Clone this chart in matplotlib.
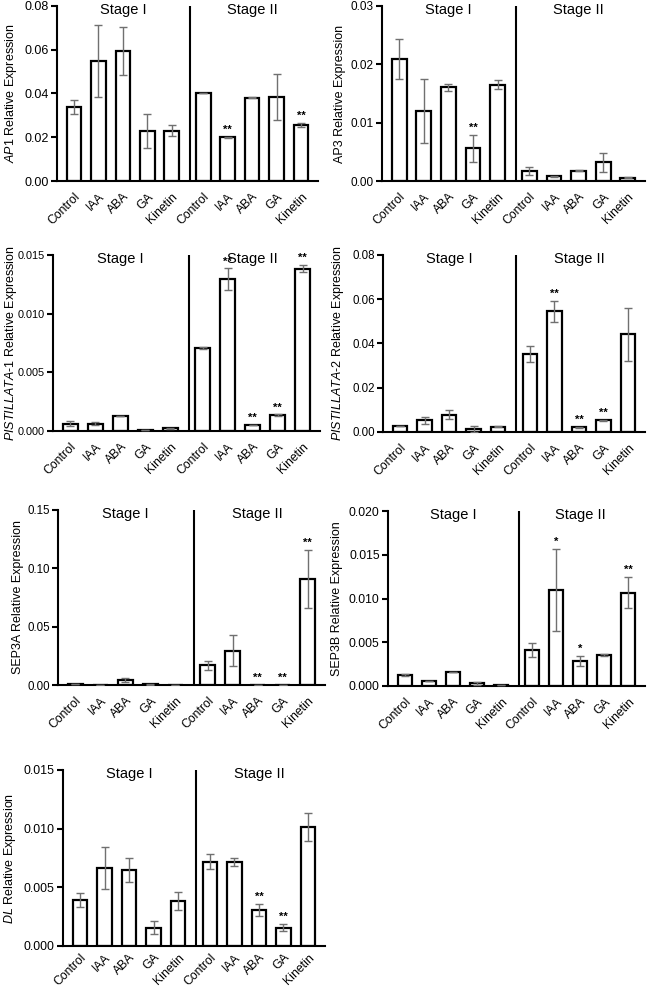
import numpy as np
import matplotlib
matplotlib.use("Agg")
import matplotlib.pyplot as plt

plt.rcParams['font.family'] = ['Liberation Sans', 'DejaVu Sans']
plt.rcParams['mathtext.fontset'] = 'custom'
plt.rcParams['mathtext.rm'] = 'Liberation Sans'
plt.rcParams['mathtext.it'] = 'Liberation Sans:italic'

treatments = ["Control", "IAA", "ABA", "GA", "Kinetin"]
stages = ["Stage I", "Stage II"]

# values: Stage I then Stage II
ap1 = [0.0338, 0.0549, 0.0594, 0.0229, 0.0229, 0.0402, 0.0200, 0.0380, 0.0384, 0.0256]
ap1_err = [0.0033, 0.0163, 0.0110, 0.0079, 0.0025, 0.0002, 0.0003, 0.0002, 0.0104, 0.0008]
ap1_sig = ["", "", "", "", "", "", "**", "", "", "**"]

ap3 = [0.0209, 0.0120, 0.0161, 0.0056, 0.0165, 0.0017, 0.0008, 0.0018, 0.0032, 0.0006]
ap3_err = [0.0034, 0.0055, 0.0006, 0.0023, 0.0008, 0.0007, 0.0001, 0.0001, 0.0016, 0.0001]
ap3_sig = ["", "", "", "**", "", "", "", "", "", ""]

pi1 = [0.00063, 0.00063, 0.0013, 0.00005, 0.00023, 0.00705, 0.01295, 0.00051, 0.00136, 0.01383]
pi1_err = [0.0002, 0.00015, 0.0, 0.0, 0.00005, 0.0001, 0.0009, 0.00003, 0.00005, 0.0003]
pi1_sig = ["", "", "", "", "", "", "**", "**", "**", "**"]

pi2 = [0.0027, 0.0052, 0.0079, 0.0012, 0.0023, 0.0352, 0.0545, 0.0021, 0.0052, 0.0442]
pi2_err = [0.0001, 0.0016, 0.0019, 0.0013, 0.0002, 0.0035, 0.0049, 0.0002, 0.0002, 0.0120]
pi2_sig = ["", "", "", "", "", "", "**", "**", "**", ""]

sep3a = [0.0009, 0.0001, 0.0043, 0.0005, 0.0001, 0.0169, 0.0294, 0.0002, 0.0004, 0.0906]
sep3a_err = [0.0003, 0.0, 0.0013, 0.0002, 0.0, 0.0040, 0.0135, 0.0, 0.0, 0.0250]
sep3a_sig = ["", "", "", "", "", "", "", "**", "**", "**"]

sep3b = [0.00125, 0.00057, 0.00163, 0.0003, 0.00011, 0.00414, 0.01095, 0.00285, 0.00354, 0.01068]
sep3b_err = [0.00012, 0.00004, 0.0, 0.00013, 0.00002, 0.0008, 0.0047, 0.00057, 0.0001, 0.0018]
sep3b_sig = ["", "", "", "", "", "", "*", "*", "", "**"]

dl = [0.00392, 0.00668, 0.00648, 0.00156, 0.00384, 0.00719, 0.00719, 0.00307, 0.00156, 0.01011]
dl_err = [0.00057, 0.0018, 0.001, 0.00057, 0.00073, 0.00065, 0.00034, 0.0005, 0.0003, 0.0012]
dl_sig = ["", "", "", "", "", "", "", "**", "**", ""]

panels = [
    (r"$\it{AP1}$ Relative Expression", ap1, ap1_err, ap1_sig, [0, 0.02, 0.04, 0.06, 0.08], "%.2f"),
    ("AP3 Relative Expression", ap3, ap3_err, ap3_sig, [0, 0.01, 0.02, 0.03], "%.2f"),
    (r"$\it{PISTILLATA}$-$\it{1}$ Relative Expression", pi1, pi1_err, pi1_sig, [0, 0.005, 0.010, 0.015], "%.3f"),
    (r"$\it{PISTILLATA}$-$\it{2}$ Relative Expression", pi2, pi2_err, pi2_sig, [0, 0.02, 0.04, 0.06, 0.08], "%.2f"),
    ("SEP3A Relative Expression", sep3a, sep3a_err, sep3a_sig, [0, 0.05, 0.10, 0.15], "%.2f"),
    ("SEP3B Relative Expression", sep3b, sep3b_err, sep3b_sig, [0, 0.005, 0.010, 0.015, 0.020], "%.3f"),
    (r"$\it{DL}$ Relative Expression", dl, dl_err, dl_sig, [0, 0.005, 0.010, 0.015], "%.3f"),
]

# axes rectangles in pixels: left, right, top, bottom, ylabel right edge x, tick font size, x label pad
W, H = 649, 990
boxes = [
    (57, 318, 6, 181, 19, 9.0, 7),
    (382, 645, 6, 181, 346, 8.5, 7),
    (53, 320, 255, 431, 19, 7.8, 7),
    (383, 645, 255, 432, 346, 8.3, 7),
    (58, 325, 510, 685, 24, 8.3, 7),
    (388, 645, 511, 686, 343, 8.7, 7),
    (63, 325, 770, 946, 18, 8.9, 4),
]

x = np.array([0, 1, 2, 3, 4, 5.3, 6.3, 7.3, 8.3, 9.3])
divider = 4.75

fig = plt.figure(figsize=(W / 100, H / 100), dpi=100)

for (ylab, vals, errs, sig, ticks, fmt), (l, r, t, b, lx, fs, xpad) in zip(panels, boxes):
    ax = fig.add_axes([l / W, 1 - b / H, (r - l) / W, (b - t) / H])
    ymax = ticks[-1]
    ax.bar(x, vals, width=0.6, color="white", edgecolor="black", linewidth=1.6, zorder=2)
    ax.errorbar(x, vals, yerr=errs, fmt="none", ecolor="#707070", elinewidth=1,
                capsize=3, capthick=1, zorder=3)
    for xi, v, e, s in zip(x, vals, errs, sig):
        if s:
            ax.text(xi, v + e + ymax * 0.012, s, ha="center", va="bottom",
                    fontsize=8, fontweight="bold")
    ax.axvline(divider, color="black", linewidth=1.5)
    ax.set_xlim(-0.7, 10.0)
    ax.set_ylim(0, ymax)
    ax.set_yticks(ticks)
    ax.set_yticklabels([fmt % v for v in ticks], fontsize=fs)
    ax.set_xticks(x)
    ax.set_xticklabels(treatments * 2, rotation=45, ha="right", rotation_mode="anchor",
                       fontsize=8.8)
    ax.tick_params(axis="x", length=0, pad=xpad)
    ax.tick_params(axis="y", length=4, width=1.5, pad=2)
    ax.spines["top"].set_visible(False)
    ax.spines["right"].set_visible(False)
    ax.spines["left"].set_linewidth(1.5)
    ax.spines["bottom"].set_linewidth(1.5)
    ax.set_ylabel(ylab, fontsize=9)
    ax.yaxis.set_label_coords((lx - l) / (r - l), 0.5)
    ax.text(2, ymax * 0.975, stages[0], ha="center", va="center", fontsize=10.5)
    ax.text(7.3, ymax * 0.975, stages[1], ha="center", va="center", fontsize=10.5)

fig.savefig("out.png", dpi=100)
